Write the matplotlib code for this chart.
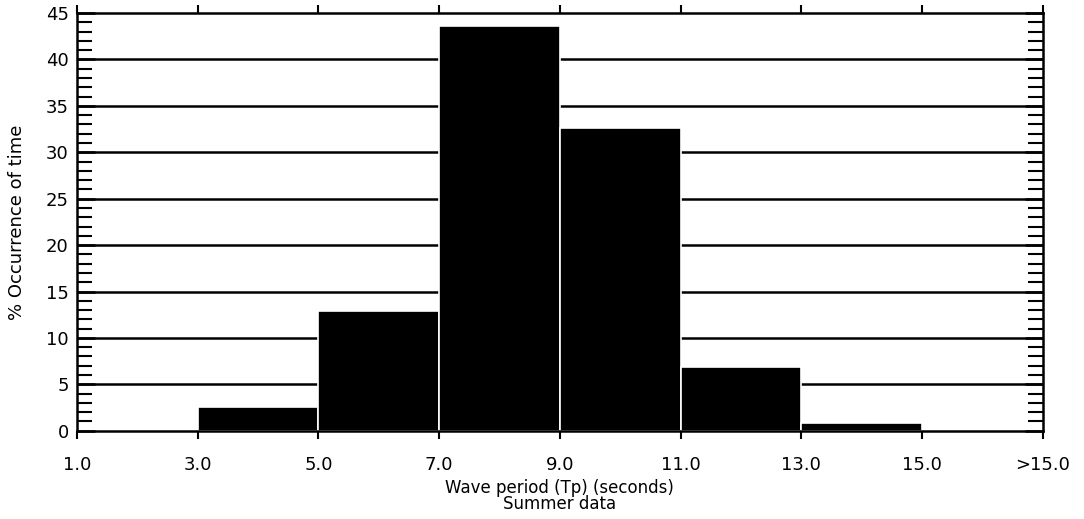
import matplotlib
matplotlib.use("Agg")
import matplotlib.pyplot as plt
from matplotlib.ticker import MultipleLocator

# Wave period class boundaries (seconds) and occurrence per class
tick_labels = ["1.0", "3.0", "5.0", "7.0", "9.0", "11.0", "13.0", "15.0", ">15.0"]
bin_start = ["3.0", "5.0", "7.0", "9.0", "11.0", "13.0"]
occurrence = [2.6, 12.9, 43.6, 32.6, 6.9, 0.8]

plt.rcParams["font.family"] = ["DejaVu Sans"]

fig = plt.figure(figsize=(10.84, 5.19), dpi=100)
ax = fig.add_axes([0.071, 0.17, 0.891, 0.805])

positions = list(range(len(tick_labels)))
left_edges = [tick_labels.index(b) for b in bin_start]

ax.set_xlim(0, len(tick_labels) - 1)
ax.set_ylim(0, 45)

# horizontal rules every 5 % (the top one is the frame itself)
for y in range(5, 45, 5):
    ax.axhline(y, color="black", lw=1.8, zorder=1)

ax.bar(left_edges, occurrence, width=1.0, align="edge", color="black",
       edgecolor="white", linewidth=1.2, zorder=2)

ax.set_xticks(positions)
ax.set_xticklabels(tick_labels, fontsize=13)
ax.tick_params(axis="x", direction="out", length=6, width=1.5, top=True,
               pad=12, colors="black")

ax.yaxis.set_major_locator(MultipleLocator(5))
ax.yaxis.set_minor_locator(MultipleLocator(1))
ax.tick_params(axis="y", which="major", direction="in", length=13, width=1.8,
               left=True, right=True, labelsize=13, pad=6)
ax.tick_params(axis="y", which="minor", direction="in", length=11, width=1.5,
               left=True, right=True)

for side in ["left", "right", "bottom", "top"]:
    ax.spines[side].set_linewidth(1.8)

ax.set_ylabel("% Occurrence of time", fontsize=13, labelpad=14)
ax.set_xlabel("Wave period (Tp) (seconds)\nSummer data", fontsize=12,
              labelpad=4, linespacing=0.85)

fig.savefig("out.png", dpi=100, facecolor="white")
